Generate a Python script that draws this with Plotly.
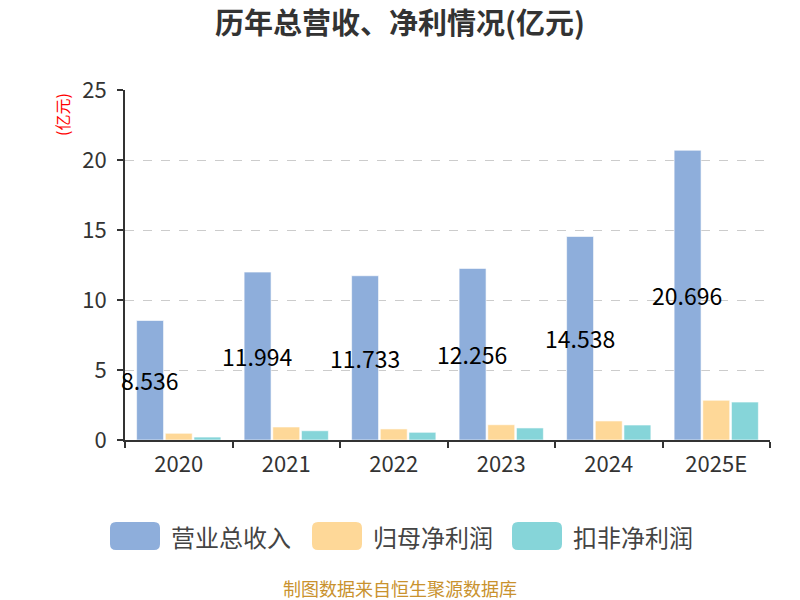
import plotly.graph_objects as go

years = ["2020", "2021", "2022", "2023", "2024", "2025E"]
revenue = [8.536, 11.994, 11.733, 12.256, 14.538, 20.696]
net_profit = [0.48, 0.93, 0.79, 1.09, 1.36, 2.84]
deducted_profit = [0.21, 0.66, 0.55, 0.86, 1.07, 2.71]
series_names = ["营业总收入", "归母净利润", "扣非净利润"]
colors = ["#8eaedb", "#fed898", "#86d5d9"]

FONT = "Noto Sans CJK SC"
L, R, T, B = 125, 30, 90, 160
PW, PH = 800 - L - R, 600 - T - B

def px_to_paper_x(px):
    return (px - L) / PW

def px_to_paper_y(py):
    return (600 - B - py) / PH

fig = go.Figure()
for name, vals, c in zip(series_names, [revenue, net_profit, deducted_profit], colors):
    fig.add_trace(go.Bar(
        x=years, y=vals, name=name, showlegend=False,
        marker=dict(color=c, line=dict(color="rgba(255,255,255,0.6)", width=1)),
    ))

# revenue value labels at mid-height of blue bars
for i, v in enumerate(revenue):
    fig.add_annotation(
        x=i - 0.27, y=v / 2, xref="x", yref="y", text=f"{v:.3f}",
        xanchor="center", yanchor="middle",
        showarrow=False, font=dict(family=FONT, size=23, color="#000"),
    )

# custom legend
sw_x = [110, 312, 512]
for name, c, x0 in zip(series_names, colors, sw_x):
    x1 = x0 + 50
    y0, y1 = 522, 550
    r = 6
    path = (f"M {px_to_paper_x(x0 + r)} {px_to_paper_y(y0)} "
            f"L {px_to_paper_x(x1 - r)} {px_to_paper_y(y0)} "
            f"Q {px_to_paper_x(x1)} {px_to_paper_y(y0)} {px_to_paper_x(x1)} {px_to_paper_y(y0 + r)} "
            f"L {px_to_paper_x(x1)} {px_to_paper_y(y1 - r)} "
            f"Q {px_to_paper_x(x1)} {px_to_paper_y(y1)} {px_to_paper_x(x1 - r)} {px_to_paper_y(y1)} "
            f"L {px_to_paper_x(x0 + r)} {px_to_paper_y(y1)} "
            f"Q {px_to_paper_x(x0)} {px_to_paper_y(y1)} {px_to_paper_x(x0)} {px_to_paper_y(y1 - r)} "
            f"L {px_to_paper_x(x0)} {px_to_paper_y(y0 + r)} "
            f"Q {px_to_paper_x(x0)} {px_to_paper_y(y0)} {px_to_paper_x(x0 + r)} {px_to_paper_y(y0)} Z")
    fig.add_shape(type="path", path=path, xref="paper", yref="paper",
                  fillcolor=c, line=dict(width=0))
    fig.add_annotation(x=px_to_paper_x(x1 + 9), y=px_to_paper_y(536), xref="paper", yref="paper",
                       text=name, showarrow=False, xanchor="left", yanchor="middle",
                       font=dict(family=FONT, size=24, color="#444"))

# y-axis unit
fig.add_annotation(x=px_to_paper_x(62), y=px_to_paper_y(115), xref="paper", yref="paper",
                   text="(亿元)", textangle=-90, showarrow=False,
                   xanchor="center", yanchor="middle",
                   font=dict(family=FONT, size=16, color="#ff0000"))

# footer
fig.add_annotation(x=px_to_paper_x(400), y=px_to_paper_y(588), xref="paper", yref="paper",
                   text="制图数据来自恒生聚源数据库", showarrow=False,
                   xanchor="center", yanchor="middle",
                   font=dict(family=FONT, size=18, color="#c9922e"))

fig.update_layout(
    width=800, height=600,
    margin=dict(l=L, r=R, t=T, b=B),
    paper_bgcolor="white", plot_bgcolor="white",
    barmode="group", bargap=0.2, bargroupgap=0.06,
    title=dict(text="<b>历年总营收、净利情况(亿元)</b>", x=0.5, xref="container", xanchor="center",
               y=1 - 24 / 600, yanchor="middle", yref="container",
               font=dict(family=FONT, size=29, color="#333")),
    font=dict(family=FONT),
    xaxis=dict(
        range=[-0.5, 5.5], automargin=False,
        showline=True, linecolor="#333", linewidth=2,
        ticks="outside", ticklen=6, tickwidth=2, tickcolor="#333", tickson="boundaries",
        tickfont=dict(family=FONT, size=22, color="#333"),
        ticklabelstandoff=4,
        showgrid=False,
    ),
    yaxis=dict(
        range=[0, 25], dtick=5, automargin=False,
        showline=True, linecolor="#333", linewidth=2,
        ticks="outside", ticklen=6, tickwidth=2, tickcolor="#333",
        tickfont=dict(family=FONT, size=22, color="#333"),
        ticklabelstandoff=6,
        showgrid=True, gridcolor="#cccccc", griddash="dash", gridwidth=1,
        zeroline=False,
    ),
)

fig.write_html("out.html")
